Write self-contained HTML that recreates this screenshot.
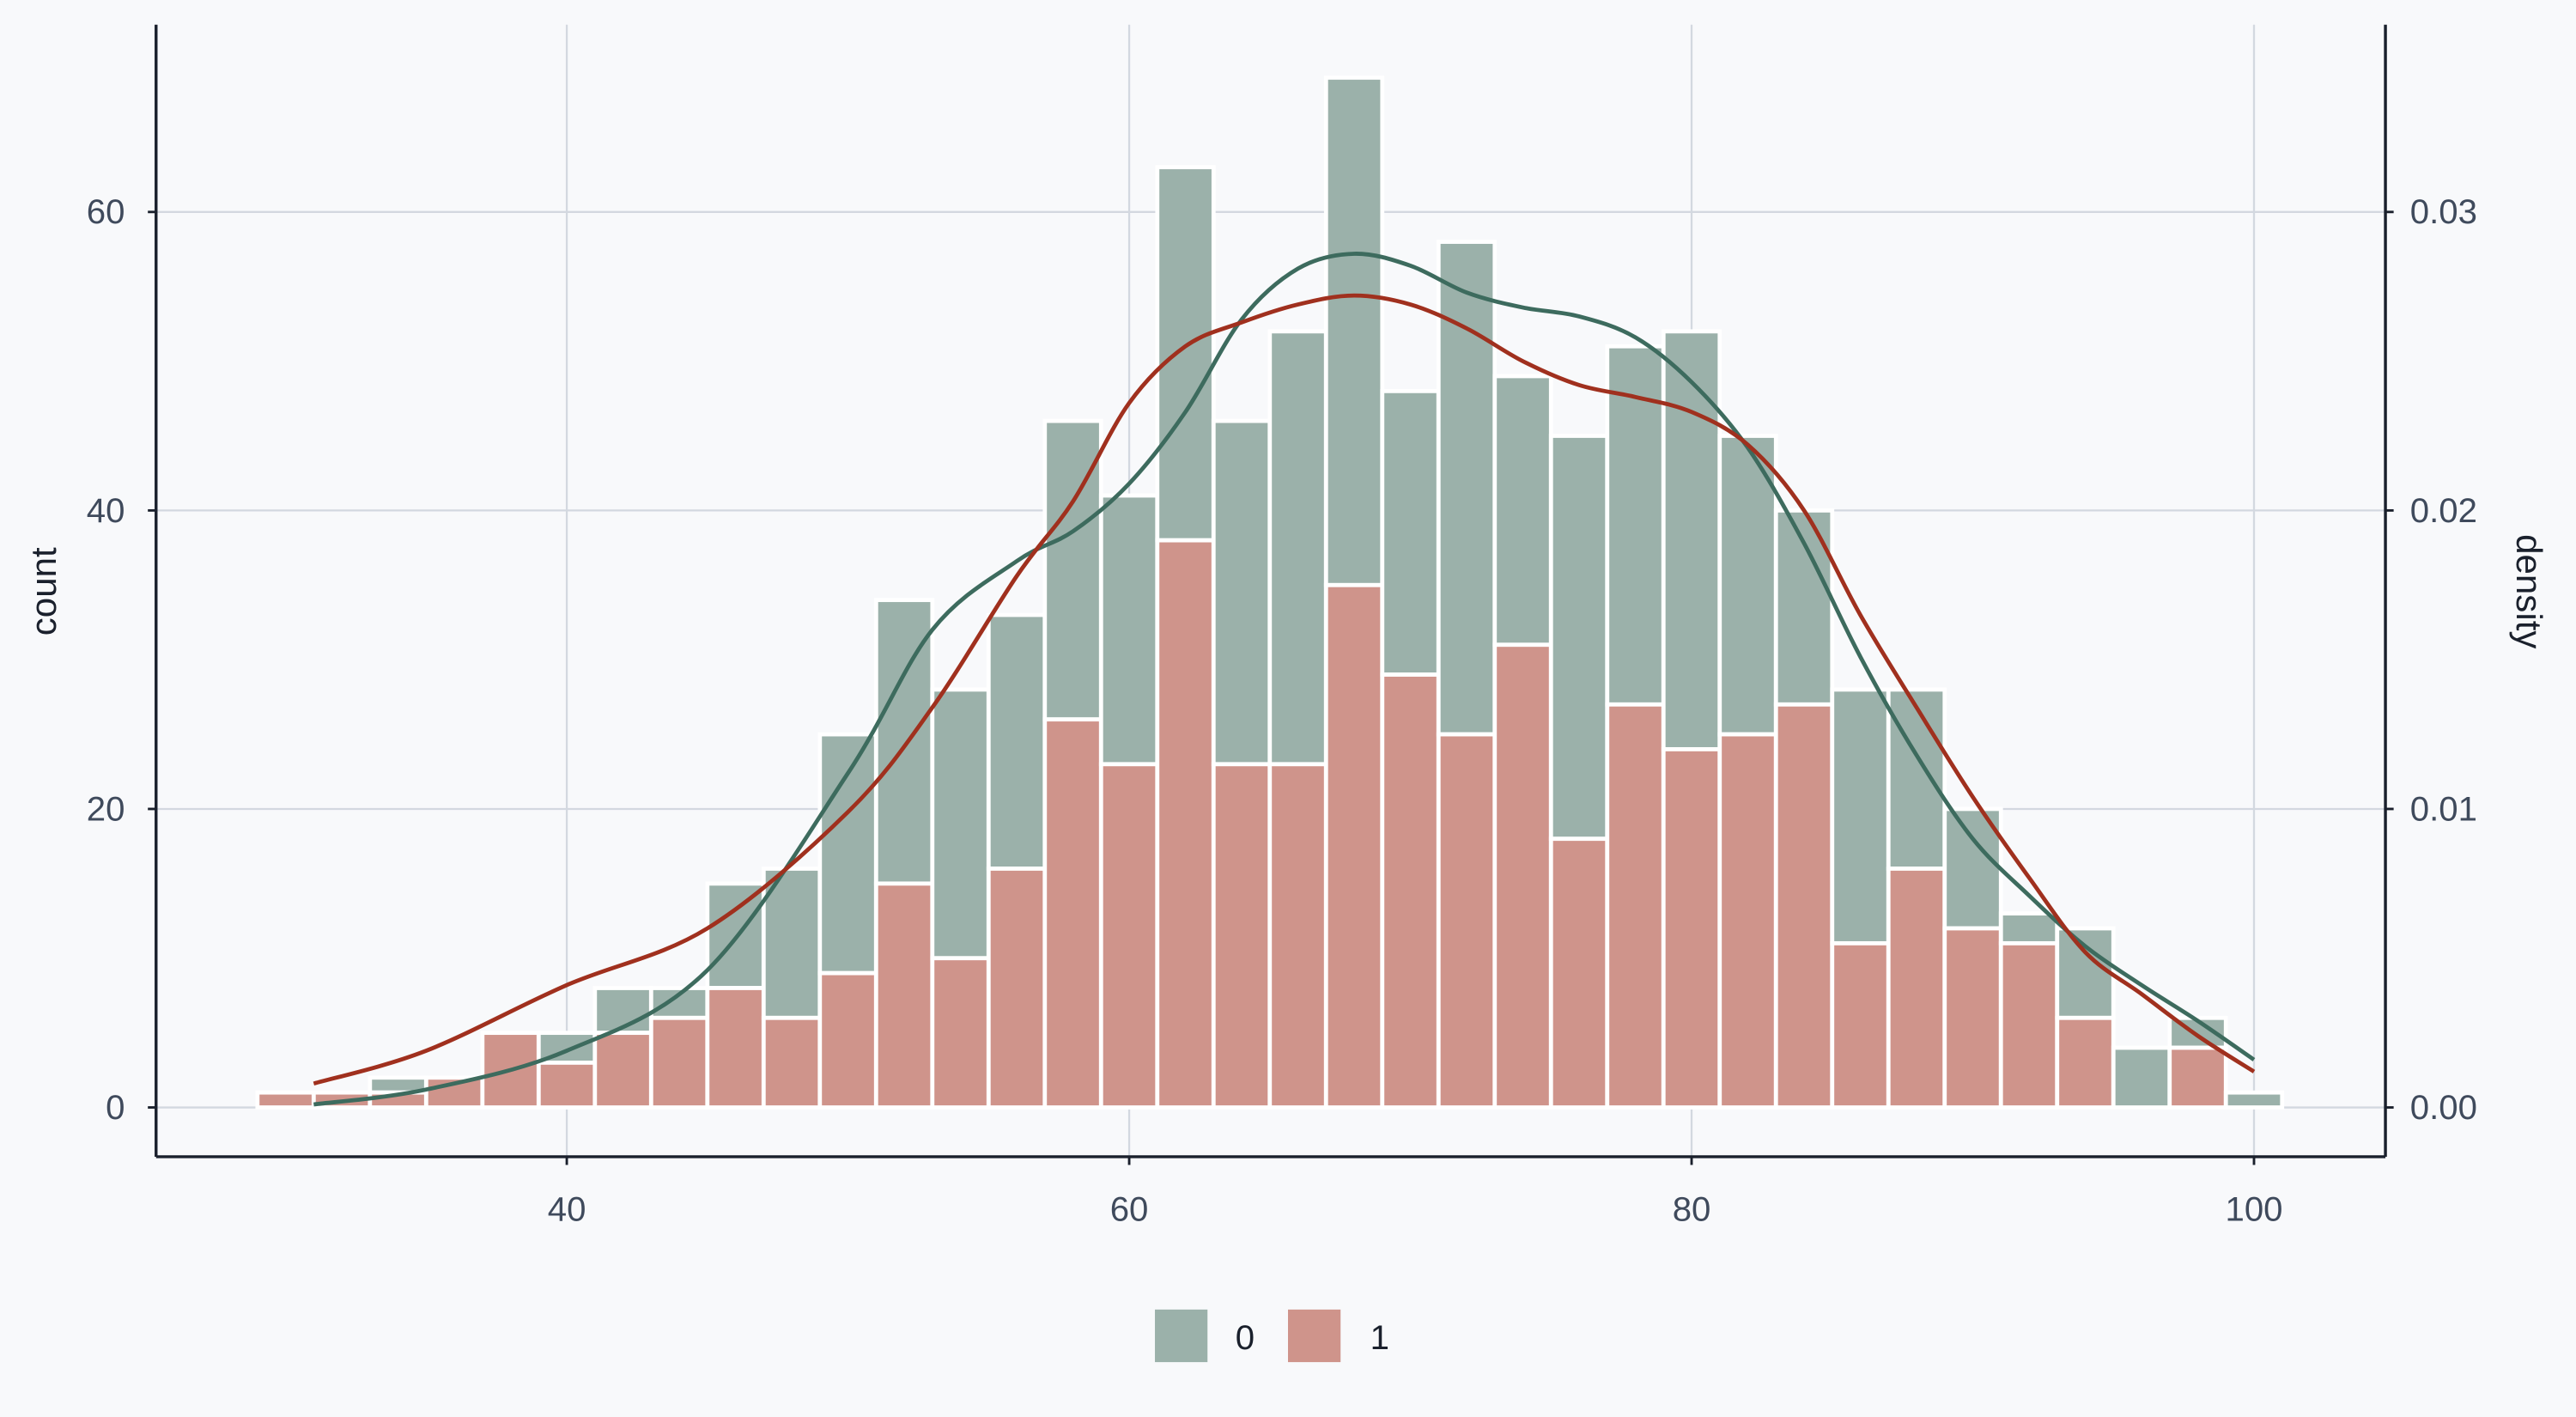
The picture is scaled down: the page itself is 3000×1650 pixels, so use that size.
<!DOCTYPE html>
<html><head><meta charset="utf-8">
<style>
html,body{margin:0;padding:0;background:#f8f9fb;}
svg{display:block;font-family:"Liberation Sans",Arial,sans-serif;}
</style></head>
<body>
<svg id="chart" width="3000" height="1650" viewBox="0 0 1568 862.4" preserveAspectRatio="none" xmlns="http://www.w3.org/2000/svg">
<rect x="0" y="0" width="1568" height="862.4" fill="#f8f9fb"/>
<g id="grid"></g>
<g id="bars"></g>
<g id="curves"></g>
<g id="axes"></g>
<text x="34" y="360" font-size="22" fill="#1a202c" text-anchor="middle" transform="rotate(-90 34 360)">count</text>
<text x="1532" y="360" font-size="22" fill="#1a202c" text-anchor="middle" transform="rotate(90 1532 360)">density</text>
<g>
  <rect x="703" y="797" width="32" height="32" fill="#9bb1aa"/>
  <text x="752" y="821" font-size="21" fill="#1a202c">0</text>
  <rect x="784" y="797" width="32" height="32" fill="#cf948b"/>
  <text x="834" y="821" font-size="21" fill="#1a202c">1</text>
</g>
</svg>
<script>
const binStart = 29;
const binWidth = 2;
const totalCounts = [1,1,2,2,5,5,8,8,15,16,25,34,28,33,46,41,63,46,52,69,48,58,49,45,51,52,45,40,28,28,20,13,12,4,6,1];
const group1Counts = [1,1,1,2,5,3,5,6,8,6,9,15,10,16,26,23,38,23,23,35,29,25,31,18,27,24,25,27,11,16,12,11,6,0,4,0];
const densX = [31,35,40,45,50,53,56,58,60,62,64,66,68,70,72,74,76,78,80,82,84,86,88,90,92,94,96,98,100];
const dens0 = [0.0001,0.0006,0.0019,0.0046,0.0112,0.0160,0.0183,0.0193,0.0209,0.0233,0.0264,0.0281,0.0286,0.0282,0.0273,0.0268,0.0265,0.0258,0.0243,0.0221,0.0189,0.0151,0.0118,0.0090,0.0071,0.0054,0.0041,0.0029,0.0016];
const dens1 = [0.0008,0.0019,0.0041,0.0060,0.0099,0.0134,0.0178,0.0203,0.0236,0.0255,0.0263,0.0269,0.0272,0.0269,0.0261,0.0250,0.0242,0.0238,0.0233,0.0222,0.0200,0.0165,0.0134,0.0104,0.0077,0.0052,0.0038,0.0024,0.0012];
const xTicks = [40,60,80,100];
const yTicks = [0,20,40,60];
const y2Ticks = [0,0.01,0.02,0.03];
const y2Labels = ["0.00","0.01","0.02","0.03"];

const NS = "http://www.w3.org/2000/svg";
const X = v => 345 + (v - 40) * (1372 - 345) / 60;
const Y = c => 674 - c * (674 - 129) / 60;
const Y2 = d => 674 - d * (674 - 129) / 0.03;
function mk(tag, attrs, parent){const e=document.createElementNS(NS,tag);for(const k in attrs)e.setAttribute(k,attrs[k]);parent.appendChild(e);return e;}
const grid=document.getElementById('grid'),bars=document.getElementById('bars'),curves=document.getElementById('curves'),axes=document.getElementById('axes');

xTicks.forEach(t=>{
  const l=mk('line',{x1:X(t),x2:X(t),y1:15,y2:704,stroke:'#d3d8e0','stroke-width':1.2},grid);
  
  
  const tx=mk('text',{x:X(t),y:743,'font-size':21,fill:'#3f4a5c','text-anchor':'middle'},axes);
  tx.textContent=t;
  
  
  const tk=mk('line',{x1:X(t),x2:X(t),y1:704,y2:709,stroke:'#1a202c','stroke-width':1.5},axes);
  
  
});
yTicks.forEach(t=>{
  const l=mk('line',{x1:95,x2:1452,y1:Y(t),y2:Y(t),stroke:'#d3d8e0','stroke-width':1.2},grid);
  
  
  const tx=mk('text',{x:76,y:Y(t)+7,'font-size':21,fill:'#3f4a5c','text-anchor':'end'},axes);
  tx.textContent=t;
  
  
});
y2Ticks.forEach((t,i)=>{
  const tx=mk('text',{x:1467,y:Y2(t)+7,'font-size':21,fill:'#3f4a5c','text-anchor':'start'},axes);
  tx.textContent=y2Labels[i];
  
  
});
totalCounts.forEach((tot,i)=>{
  const x0=X(binStart+i*binWidth), x1=X(binStart+(i+1)*binWidth);
  const g1=group1Counts[i];
  if(tot>g1){
    const r=mk('rect',{x:x0,y:Y(tot),width:x1-x0,height:Y(g1)-Y(tot),fill:'#9bb1aa',stroke:'#ffffff','stroke-width':2.5},bars);
    
    
  }
  if(g1>0){
    const r=mk('rect',{x:x0,y:Y(g1),width:x1-x0,height:Y(0)-Y(g1),fill:'#cf948b',stroke:'#ffffff','stroke-width':2.5},bars);
    
    
  }
});
function smooth(xs,ys){
  const p=xs.map((x,i)=>[X(x),Y2(ys[i])]);
  let d=`M${p[0][0]},${p[0][1]}`;
  for(let i=0;i<p.length-1;i++){
    const p0=p[Math.max(0,i-1)],p1=p[i],p2=p[i+1],p3=p[Math.min(p.length-1,i+2)];
    const c1=[p1[0]+(p2[0]-p0[0])/6,p1[1]+(p2[1]-p0[1])/6];
    const c2=[p2[0]-(p3[0]-p1[0])/6,p2[1]-(p3[1]-p1[1])/6];
    d+=` C${c1[0]},${c1[1]} ${c2[0]},${c2[1]} ${p2[0]},${p2[1]}`;
  }
  return d;
}
const c0=mk('path',{d:smooth(densX,dens0),fill:'none',stroke:'#3d6b5e','stroke-width':2.5},curves);


const c1=mk('path',{d:smooth(densX,dens1),fill:'none',stroke:'#a0301e','stroke-width':2.5},curves);



[[95,15,95,704,'y-axis-line'],[95,704,1452,704,'x-axis-line'],[1452,15,1452,704,'y2-axis-line']].forEach(a=>{
  const l=mk('line',{x1:a[0],y1:a[1],x2:a[2],y2:a[3],stroke:'#1a202c','stroke-width':1.8},axes);
  
  
});
yTicks.forEach(t=>{
  const tk=mk('line',{x1:90,x2:95,y1:Y(t),y2:Y(t),stroke:'#1a202c','stroke-width':1.5},axes);
  
  
});
y2Ticks.forEach(t=>{
  const tk=mk('line',{x1:1452,x2:1457,y1:Y2(t),y2:Y2(t),stroke:'#1a202c','stroke-width':1.5},axes);
  
  
});
</script>
</body></html>
